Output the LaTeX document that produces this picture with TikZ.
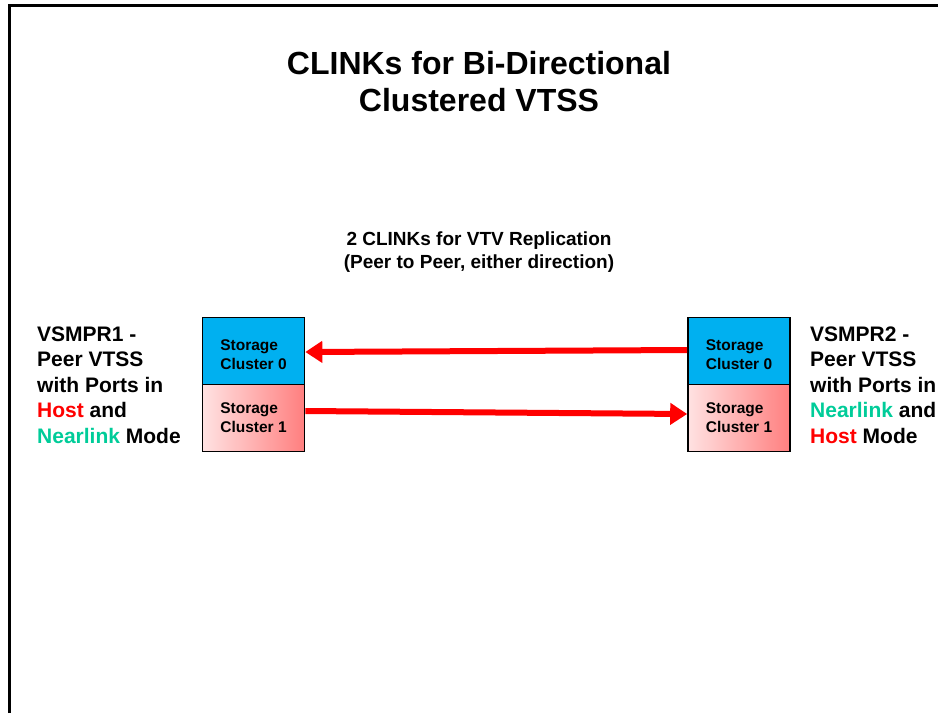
\documentclass[tikz,border=0pt]{standalone}
\usepackage{fontspec}
\setmainfont{Liberation Sans}
\usetikzlibrary{arrows.meta}
\definecolor{clblue}{HTML}{00B0F0}
\definecolor{clpink}{HTML}{FFE2E2}
\definecolor{clrose}{HTML}{FF7F7F}
\definecolor{clgreen}{HTML}{00CC99}
\begin{document}
\begin{tikzpicture}[x=1pt,y=-1pt,
		half/.style={draw=black, line width=1.6pt, minimum width=102pt, minimum height=67pt, inner sep=0pt},
		boxtext/.style={inner sep=0pt, align=left, font=\fontsize{15.5}{19}\selectfont\bfseries},
		cluzero/.style={half, fill=clblue},
		cluone/.style={half, left color=clpink, right color=clrose},
		peer/.style={anchor=west, inner sep=0pt, align=left, font=\fontsize{21}{25.5}\selectfont\bfseries},
		repl/.style={draw=red, line width=6pt, -{Triangle[length=17pt,width=21pt]}}]
			\useasboundingbox (0,0) rectangle (938,713);
			\def \lx{ 253.5 };
			\def \rx{ 739 };
			% frame
			\draw[line width=3pt] (9,713) -- (9,5) -- (938,5);
			\node[align=center, inner sep=0pt, font=\fontsize{32}{37}\selectfont\bfseries] (title) at (479,82) {CLINKs for Bi-Directional\\Clustered VTSS};
			\node[align=center, inner sep=0pt, font=\fontsize{19}{23}\selectfont\bfseries] (note) at (479,252.5) {2 CLINKs for VTV Replication\\(Peer to Peer, either direction)};
			% storage clusters
			\node[cluzero, label={[boxtext, yshift=-4pt]center:{Storage\\Cluster 0}}] (c0l) at (\lx,351) {};
			\node[cluone, label={[boxtext]center:{Storage\\Cluster 1}}] (c1l) at (\lx,418) {};
			\node[cluzero, label={[boxtext, yshift=-4pt]center:{Storage\\Cluster 0}}] (c0r) at (\rx,351) {};
			\node[cluone, label={[boxtext]center:{Storage\\Cluster 1}}] (c1r) at (\rx,418) {};
			% peer labels
			\node[peer] (vsm1) at (37,385) {VSMPR1 -\\Peer VTSS\\with Ports in\\\textcolor{red}{Host} and\\\textcolor{clgreen}{Nearlink} Mode};
			\node[peer] (vsm2) at (810,385) {VSMPR2 -\\Peer VTSS\\with Ports in\\\textcolor{clgreen}{Nearlink} and\\\textcolor{red}{Host} Mode};
			% clinks
			\draw[repl] ([yshift=1pt]c0r.west) -- ([yshift=-1pt]c0l.east);
			\draw[repl] ([yshift=7pt]c1l.east) -- ([yshift=4pt]c1r.west);
		\end{tikzpicture}
\end{document}
